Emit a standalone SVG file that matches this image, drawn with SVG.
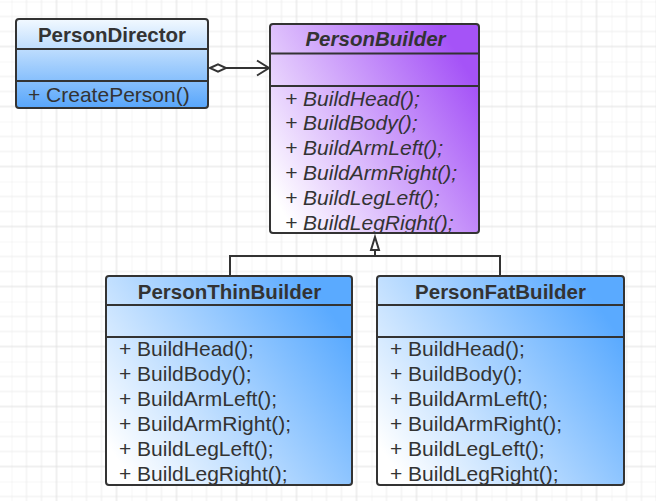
<svg xmlns="http://www.w3.org/2000/svg" width="656" height="501" viewBox="0 0 656 501">
<defs>
<pattern id="grid" x="11.5" y="1.5" width="60" height="60" patternUnits="userSpaceOnUse">
<path d="M0 0V60M15 0V60M30 0V60M0 0H60M0 15H60M0 30H60" stroke="#ededed" stroke-width="1" fill="none"/>
<path d="M45 0V60M0 45H60" stroke="#e0e0e0" stroke-width="1" fill="none"/>
</pattern>
<linearGradient id="gDir" x1="0" y1="0" x2="0" y2="1">
<stop offset="0" stop-color="#f2f9ff"/>
<stop offset="1" stop-color="#58a6fb"/>
</linearGradient>
<linearGradient id="gBlue" x1="0" y1="0.8" x2="1" y2="0.2">
<stop offset="0" stop-color="#ffffff"/>
<stop offset="0.95" stop-color="#5aaaff"/>
</linearGradient>
<linearGradient id="gPurple" x1="0" y1="0.8" x2="1" y2="0.2">
<stop offset="0" stop-color="#ffffff"/>
<stop offset="0.95" stop-color="#a553f7"/>
</linearGradient>
</defs>
<style>
.box{stroke:#333;stroke-width:2}
.div{stroke:#333;stroke-width:2;fill:none}
.title{font-family:"Liberation Sans",Arial,sans-serif;font-size:20.5px;font-weight:bold;fill:#333;text-anchor:middle}
.m{font-family:"Liberation Sans",Arial,sans-serif;font-size:21px;fill:#333}
.it{font-style:italic}
.conn{stroke:#333;stroke-width:2;fill:none}
</style>
<rect width="656" height="501" fill="#ffffff"/>
<rect width="656" height="501" fill="url(#grid)"/>

<g id="connectors">
<path class="conn" d="M226 68H269"/>
<path class="conn" d="M210 68L218 64.3L226 68L218 71.7Z" fill="#ffffff" style="fill:#fff"/>
<path class="conn" d="M257 60.5L269 68L257 75.5"/>
<path class="conn" d="M230 276V256H500V276M375 256V250"/>
<path class="conn" d="M375 237L379 250H371Z" style="fill:#fff"/>
</g>

<g id="PersonDirector">
<rect class="box" x="16" y="19" width="192" height="89" rx="3" fill="url(#gDir)"/>
<path class="div" d="M16 49H208M16 81H208"/>
<text class="title" x="112" y="42">PersonDirector</text>
<text class="m" x="28" y="102">+ CreatePerson()</text>
</g>

<g id="PersonBuilder">
<rect class="box" x="270" y="24" width="209" height="209" rx="3" fill="url(#gPurple)"/>
<path class="div" d="M270 53.5H479M270 86H479"/>
<text class="title it" x="375.5" y="46">PersonBuilder</text>
<text class="m it" x="285" y="105.5">+ BuildHead();</text>
<text class="m it" x="285" y="130.3">+ BuildBody();</text>
<text class="m it" x="285" y="155.1">+ BuildArmLeft();</text>
<text class="m it" x="285" y="179.9">+ BuildArmRight();</text>
<text class="m it" x="285" y="204.7">+ BuildLegLeft();</text>
<text class="m it" x="285" y="229.5">+ BuildLegRight();</text>
</g>

<g id="PersonThinBuilder">
<rect class="box" x="106" y="276" width="246" height="209" rx="3" fill="url(#gBlue)"/>
<path class="div" d="M106 305H352M106 337H352"/>
<text class="title" x="229.5" y="298.5">PersonThinBuilder</text>
<text class="m" x="119" y="356">+ BuildHead();</text>
<text class="m" x="119" y="380.9">+ BuildBody();</text>
<text class="m" x="119" y="405.8">+ BuildArmLeft();</text>
<text class="m" x="119" y="430.7">+ BuildArmRight();</text>
<text class="m" x="119" y="455.6">+ BuildLegLeft();</text>
<text class="m" x="119" y="480.5">+ BuildLegRight();</text>
</g>

<g id="PersonFatBuilder">
<rect class="box" x="377" y="276" width="247" height="209" rx="3" fill="url(#gBlue)"/>
<path class="div" d="M377 305H624M377 337H624"/>
<text class="title" x="500.5" y="298.5">PersonFatBuilder</text>
<text class="m" x="390" y="356">+ BuildHead();</text>
<text class="m" x="390" y="380.9">+ BuildBody();</text>
<text class="m" x="390" y="405.8">+ BuildArmLeft();</text>
<text class="m" x="390" y="430.7">+ BuildArmRight();</text>
<text class="m" x="390" y="455.6">+ BuildLegLeft();</text>
<text class="m" x="390" y="480.5">+ BuildLegRight();</text>
</g>
</svg>
